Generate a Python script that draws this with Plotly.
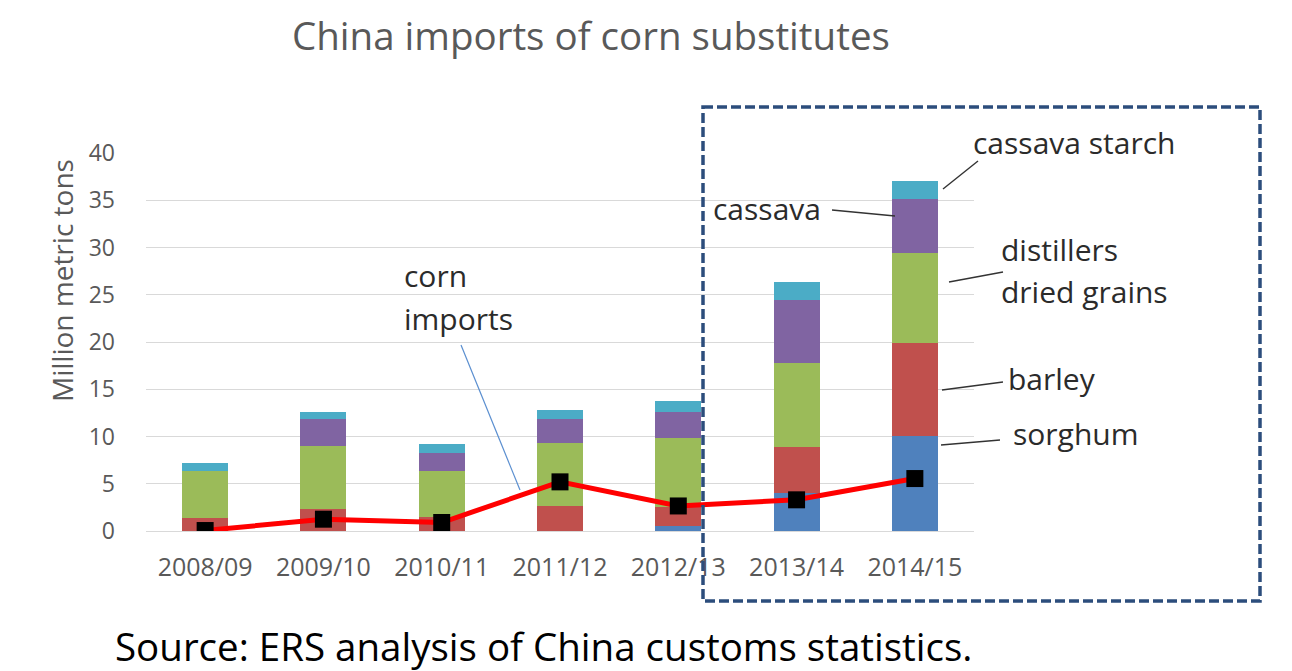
import plotly.graph_objects as go

# Marketing years
years = ["2008/09", "2009/10", "2010/11", "2011/12", "2012/13", "2013/14", "2014/15"]

# Imports of corn substitutes, million metric tons (stacked bottom to top)
sorghum = [0.0, 0.0, 0.0, 0.0, 0.5, 4.0, 10.1]
barley = [1.4, 2.3, 1.5, 2.6, 2.05, 4.9, 9.8]
ddgs = [4.95, 6.7, 4.85, 6.7, 7.25, 8.9, 9.5]
cassava = [0.0, 2.85, 1.9, 2.55, 2.8, 6.6, 5.7]
cassava_starch = [0.85, 0.75, 0.95, 0.95, 1.15, 1.9, 1.9]

# Corn imports, million metric tons
corn_imports = [0.05, 1.25, 0.9, 5.2, 2.65, 3.3, 5.55]

y_ticks = [0, 5, 10, 15, 20, 25, 30, 35, 40]

W, H = 1292, 671
L, R, T, B = 146, 974, 153, 531  # plot area in pixels

FONT = "'Open Sans', Lato, sans-serif"
GREY = "#595959"
DARK = "#2b2b2b"


def px(x):
    return (x - L) / (R - L)


def py(y):
    return (B - y) / (B - T)


fig = go.Figure()

series = [
    ("sorghum", sorghum, "#4F81BD"),
    ("barley", barley, "#C0504D"),
    ("distillers dried grains", ddgs, "#9BBB59"),
    ("cassava", cassava, "#8064A2"),
    ("cassava starch", cassava_starch, "#4BACC6"),
]
for name, vals, color in series:
    fig.add_trace(go.Bar(x=years, y=vals, name=name, marker=dict(color=color, line=dict(width=0)),
                         width=0.39))

fig.add_trace(go.Scatter(x=years, y=corn_imports, name="corn imports", mode="lines+markers",
                         line=dict(color="#FF0000", width=5),
                         marker=dict(symbol="square", size=17, color="#000000")))

fig.update_layout(
    width=W, height=H,
    margin=dict(l=L, r=W - R, t=T, b=H - B, pad=0),
    barmode="stack",
    showlegend=False,
    plot_bgcolor="white",
    paper_bgcolor="white",
    font=dict(family=FONT, color=GREY),
)

fig.update_xaxes(type="category", showgrid=False, showline=False, ticks="",
                 tickfont=dict(size=25, color=GREY), ticklabelstandoff=19)
fig.update_yaxes(range=[0, 40], tickvals=y_ticks, showgrid=True, gridcolor="#D9D9D9",
                 gridwidth=1, zeroline=True, zerolinecolor="#D9D9D9", zerolinewidth=1,
                 tickfont=dict(size=23, color=GREY), ticks="", ticklabelstandoff=30)

ann = []
shapes = []


def text(x, y, s, size, color=DARK, xanchor="left", family=FONT, angle=0):
    ann.append(dict(x=px(x), y=py(y), xref="paper", yref="paper", text=s, showarrow=False,
                    xanchor=xanchor, yanchor="middle", textangle=angle,
                    font=dict(size=size, color=color, family=family)))


def seg(x0, y0, x1, y1, color="#333333", width=1.5):
    shapes.append(dict(type="line", xref="paper", yref="paper", x0=px(x0), y0=py(y0),
                       x1=px(x1), y1=py(y1), line=dict(color=color, width=width)))


text(591, 35, "China imports of corn substitutes", 38.5, GREY, xanchor="center")
text(62, 281, "Million metric tons", 28, GREY, xanchor="center", angle=-90)

text(402, 275, "corn", 30)
text(402, 318, "imports", 30)
seg(461, 345, 520, 490, color="#5B8FD0", width=1.2)

text(971, 143, "cassava starch", 30)
seg(943, 189, 978, 161)
text(711, 208, "cassava", 30)
seg(832, 210, 895, 216)
text(999, 249, "distillers", 30)
text(999, 291, "dried grains", 30)
seg(949, 282, 1003, 272)
text(1006, 378, "barley", 30)
seg(942, 390, 1003, 382)
text(1011, 433, "sorghum", 30)
seg(941, 445, 1000, 440)

text(113, 646, "Source: ERS analysis of China customs statistics.", 38.5, "#000000")

# dashed frame around the two most recent years
shapes.append(dict(type="rect", xref="paper", yref="paper", x0=px(703), y0=py(107),
                   x1=px(1260), y1=py(601),
                   line=dict(color="#2C4D7C", width=3.5, dash="10px,4px")))

fig.update_layout(annotations=ann, shapes=shapes)

fig.write_html("out.html")
